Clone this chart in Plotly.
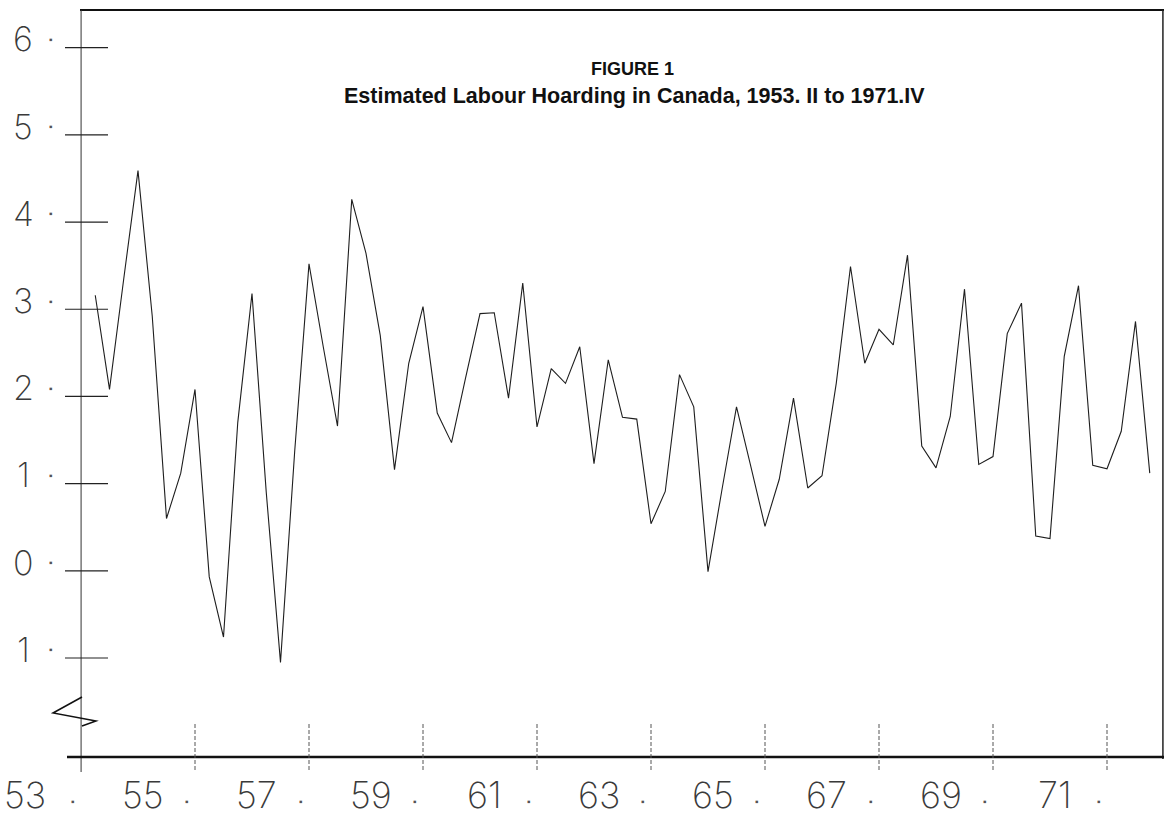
import plotly.graph_objects as go

# Quarterly periods 1953.II .. 1971.IV
years = list(range(1953, 1972))
quarters = [1, 2, 3, 4]
periods = [(y, q) for y in years for q in quarters][1:]

# Estimated labour hoarding (%)
hoarding = [
    3.16, 2.08, 3.35, 4.59, 2.92, 0.60, 1.12, 2.08, -0.07, -0.76,
    1.70, 3.18, 0.90, -1.05, 1.38, 3.52, 2.57, 1.66, 4.26, 3.64,
    2.70, 1.16, 2.38, 3.03, 1.81, 1.47, 2.22, 2.95, 2.96, 1.98,
    3.30, 1.65, 2.32, 2.15, 2.57, 1.23, 2.42, 1.76, 1.74, 0.54,
    0.91, 2.25, 1.88, -0.01, 0.95, 1.88, 1.20, 0.51, 1.05, 1.98,
    0.95, 1.09, 2.15, 3.49, 2.38, 2.77, 2.59, 3.62, 1.43, 1.18,
    1.77, 3.23, 1.22, 1.31, 2.72, 3.07, 0.40, 0.37, 2.46, 3.27,
    1.21, 1.17, 1.60, 2.86, 1.12,
]

y_ticks = [6, 5, 4, 3, 2, 1, 0, -1]
y_tick_text = ["6", "5", "4", "3", "2", "1", "0", "1"]
x_tick_years = [1953, 1955, 1957, 1959, 1961, 1963, 1965, 1967, 1969, 1971]
x_tick_text = ["53", "55", "57", "59", "61", "63", "65", "67", "69", "71"]

title_line1 = "FIGURE 1"
title_line2 = "Estimated Labour Hoarding in Canada, 1953. II to 1971.IV"

x_vals = [y + (q - 1) / 4 for (y, q) in periods]

W, H = 1166, 822
L, R, T, B = 80, 2, 10, 65
pw = W - L - R
ph = H - T - B
X0_YEAR = 1953 - 1 / 57
X1_YEAR = 1953 + 1083 / 57


def px_to_paper_x(px):
    return (px - L) / pw


def py_to_paper_y(py):
    return (H - B - py) / ph


def year_to_px(yr):
    return L + (yr - X0_YEAR) / (X1_YEAR - X0_YEAR) * pw


fig = go.Figure()
fig.add_trace(go.Scatter(
    x=x_vals, y=hoarding, mode="lines",
    line=dict(color="#1e1e1e", width=1.1),
    hoverinfo="skip", showlegend=False,
))

thin_font = dict(family="Inter, Liberation Sans, sans-serif", color="#3a3a3a", weight=200)

shapes = []
annotations = []

# frame: top, right, left, bottom axis
shapes.append(dict(type="line", xref="paper", yref="paper", x0=0, x1=1, y0=1, y1=1,
                   line=dict(color="#111", width=2)))
shapes.append(dict(type="line", xref="paper", yref="paper", x0=0.999, x1=0.999, y0=py_to_paper_y(759), y1=1,
                   line=dict(color="#222", width=1.5)))
shapes.append(dict(type="line", xref="paper", yref="paper", x0=0.001, x1=0.001,
                   y0=py_to_paper_y(772), y1=1, line=dict(color="#333", width=1)))
shapes.append(dict(type="line", xref="paper", yref="paper", x0=px_to_paper_x(67), x1=1,
                   y0=0, y1=0, line=dict(color="#111", width=2.5)))

# y ticks and labels
for v, t in zip(y_ticks, y_tick_text):
    shapes.append(dict(type="line", xref="paper", yref="y",
                       x0=px_to_paper_x(65), x1=px_to_paper_x(108), y0=v, y1=v,
                       line=dict(color="#222", width=1.2)))
    annotations.append(dict(xref="paper", yref="y", x=px_to_paper_x(23), y=v + 0.1,
                            text=t, showarrow=False, xanchor="center", yanchor="middle",
                            font=dict(size=34, **thin_font)))
    annotations.append(dict(xref="paper", yref="y", x=px_to_paper_x(51), y=v + 0.1,
                            text="▪", showarrow=False, xanchor="center", yanchor="middle",
                            font=dict(size=10, color="#555")))

# x ticks and labels
for yr, t in zip(x_tick_years, x_tick_text):
    if yr != 1953:
        shapes.append(dict(type="line", xref="x", yref="paper", x0=yr, x1=yr,
                           y0=py_to_paper_y(770), y1=py_to_paper_y(722),
                           line=dict(color="#555", width=1, dash="4px,2px")))
    tick_px = year_to_px(yr)
    label_px = tick_px - (56 if yr == 1953 else 52)
    annotations.append(dict(xref="paper", yref="paper", x=px_to_paper_x(label_px), y=py_to_paper_y(795),
                            text=t, showarrow=False, xanchor="center", yanchor="middle",
                            font=dict(size=36, **thin_font)))
    annotations.append(dict(xref="paper", yref="paper", x=px_to_paper_x(tick_px - 8), y=py_to_paper_y(801),
                            text="▪", showarrow=False, xanchor="center", yanchor="middle",
                            font=dict(size=10, color="#555")))

# axis break zigzag
zz = [(82, 697), (53, 713), (96, 721), (82, 726)]
path = "M " + " L ".join(f"{px_to_paper_x(a):.5f},{py_to_paper_y(b):.5f}" for a, b in zz)
shapes.append(dict(type="path", xref="paper", yref="paper", path=path,
                   line=dict(color="#111", width=1.5)))

# title
annotations.append(dict(xref="paper", yref="paper", x=px_to_paper_x(632), y=py_to_paper_y(69),
                        text=f"<b>{title_line1}</b>", showarrow=False, xanchor="center", yanchor="middle",
                        font=dict(family="Liberation Sans, Arial, sans-serif", size=18, color="#111")))
annotations.append(dict(xref="paper", yref="paper", x=px_to_paper_x(634), y=py_to_paper_y(96),
                        text=f"<b>{title_line2}</b>", showarrow=False, xanchor="center", yanchor="middle",
                        font=dict(family="Liberation Sans, Arial, sans-serif", size=21.5, color="#111")))

fig.update_layout(
    width=W, height=H,
    margin=dict(l=L, r=R, t=T, b=B),
    paper_bgcolor="white", plot_bgcolor="white",
    shapes=shapes, annotations=annotations,
    xaxis=dict(range=[X0_YEAR, X1_YEAR], showgrid=False, zeroline=False,
               showticklabels=False, ticks="", showline=False, fixedrange=True),
    yaxis=dict(range=[(570.8 - 757) / 87.19, (570.8 - 10) / 87.19], showgrid=False, zeroline=False,
               showticklabels=False, ticks="", showline=False, fixedrange=True),
)

fig.write_html("out.html", config={"displayModeBar": False},
               post_script="document.body.style.margin='0';document.body.style.overflow='hidden';")
